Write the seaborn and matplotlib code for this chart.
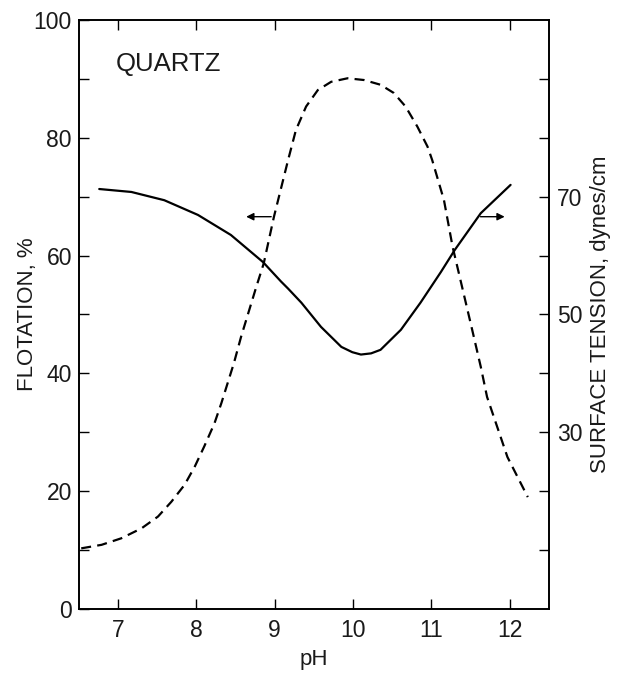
import matplotlib.pyplot as plt
from matplotlib.ticker import FixedLocator
import seaborn as sns

# flotation recovery (dashed, left axis)
ph_flot = [6.53, 6.79, 7.04, 7.30, 7.51, 7.68, 7.85, 7.98, 8.10, 8.23, 8.32, 8.48,
           8.57, 8.76, 8.86, 8.99, 9.17, 9.27, 9.40, 9.55, 9.72, 9.93, 10.14,
           10.35, 10.52, 10.67, 10.82, 10.95, 11.01, 11.16, 11.27, 11.35, 11.52,
           11.63, 11.71, 11.97, 12.23]
flotation = [10.3, 10.9, 12.0, 13.7, 15.7, 18.2, 21.1, 24.2, 27.6, 31.5, 35.0, 41.8,
             46.2, 54.5, 58.7, 66.6, 76.2, 81.3, 85.3, 88.1, 89.5, 90.1, 89.8,
             89.0, 87.6, 85.3, 81.9, 78.5, 76.2, 69.4, 61.5, 57.0, 47.4,
             41.1, 36.0, 25.8, 19.0]

# surface tension (solid, right axis)
ph_st = [6.76, 7.17, 7.59, 8.02, 8.44, 8.85, 9.08, 9.17, 9.34, 9.59, 9.85, 9.99,
         10.1, 10.23, 10.35, 10.61, 10.86, 11.12, 11.3, 11.63, 12.01]
surface_tension = [71.3, 70.8, 69.4, 66.9, 63.5, 58.9, 55.6, 54.4, 52.0, 47.9, 44.5, 43.6,
                   43.2, 43.4, 44.0, 47.4, 52.0, 57.2, 61.0, 67.2, 72.0]

left_ticks = [0, 20, 40, 60, 80, 100]
right_ticks = [30, 50, 70]
ph_ticks = [7, 8, 9, 10, 11, 12]

sns.set_style("ticks")
plt.rcParams['font.family'] = ['Liberation Sans', 'DejaVu Sans']

fig = plt.figure(figsize=(6.21, 6.74), dpi=100)
ax = fig.add_axes([0.127, 0.0964, 0.757, 0.874])
ax2 = ax.twinx()

sns.lineplot(x=ph_flot, y=flotation, ax=ax, color='black', lw=1.6,
             linestyle=(0, (4.5, 2.8)), sort=False, estimator=None)
sns.lineplot(x=ph_st, y=surface_tension, ax=ax2, color='black', lw=1.6,
             sort=False, estimator=None)

ax.set_xlim(6.5, 12.5)
ax.set_ylim(0, 100)
ax2.set_ylim(0, 100)

ax.set_xticks(ph_ticks)
ax.set_yticks(left_ticks)
ax.yaxis.set_minor_locator(FixedLocator([10, 30, 50, 70, 90]))
ax2.set_yticks(right_ticks)
ax2.yaxis.set_minor_locator(FixedLocator([10, 20, 40, 60, 80, 90]))

tc = '#1a1a1a'
ax.tick_params(axis='both', which='both', direction='in', length=7, width=1,
               labelsize=16.5, colors='black', labelcolor=tc)
ax.tick_params(axis='x', top=True, pad=7)
ax.tick_params(axis='y', which='both', right=False, pad=5)
ax2.tick_params(axis='y', which='both', direction='in', length=7, width=1,
                labelsize=16.5, colors='black', labelcolor=tc, pad=6)

for a in (ax, ax2):
    for s in a.spines.values():
        s.set_linewidth(1.2)
        s.set_color('black')

ax.set_xlabel("pH", fontsize=16, color=tc, labelpad=5)
ax.set_ylabel("FLOTATION, %", fontsize=16, color=tc, labelpad=-3)
ax2.set_ylabel("SURFACE TENSION, dynes/cm", fontsize=16, color=tc, labelpad=5)

ax2.text(6.97, 92.5, "QUARTZ", fontsize=18.5, color=tc, ha='left', va='center')

# arrows pointing to the axis each curve belongs to
arrow = dict(arrowstyle='-|>', color='black', lw=1.0, mutation_scale=11)
ax2.annotate('', xy=(8.6, 66.6), xytext=(8.99, 66.6), arrowprops=arrow)
ax2.annotate('', xy=(11.97, 66.6), xytext=(11.59, 66.6), arrowprops=arrow)

fig.savefig("out.png", dpi=100, facecolor='white')
